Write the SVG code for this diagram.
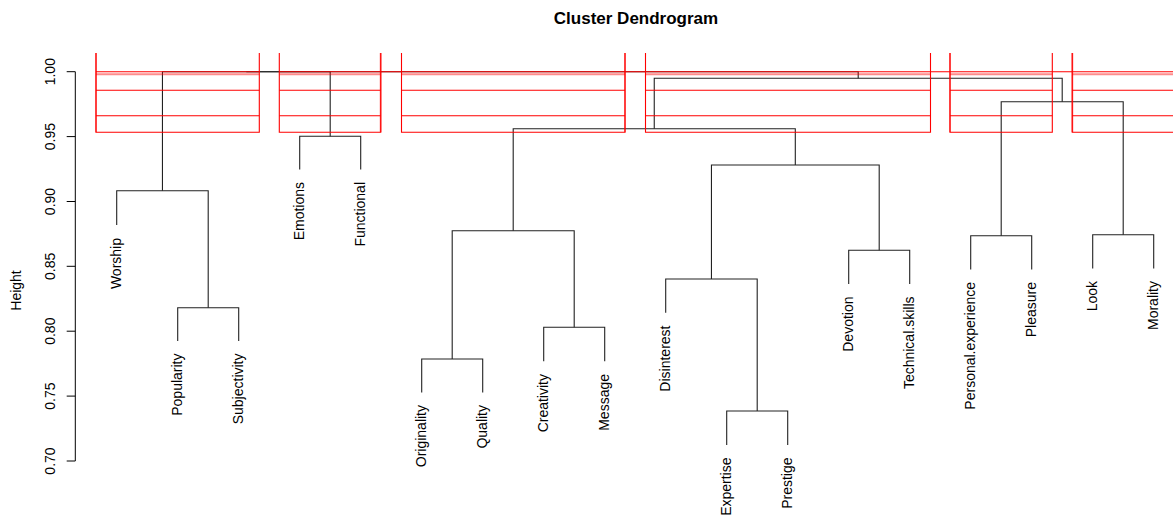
<svg xmlns="http://www.w3.org/2000/svg" width="1173" height="516" viewBox="0 0 1173 516">
<style>
  text { font-family: "Liberation Sans", Arial, sans-serif; fill: #000; }
  .lbl { font-size: 14px; text-anchor: end; }
  .tick { font-size: 14px; text-anchor: middle; }
  .title { font-size: 17px; font-weight: bold; text-anchor: middle; }
  .dl { fill: none; stroke: #222; stroke-width: 1.1; }
  .ax { fill: none; stroke: #000; stroke-width: 1; }
  .rr { fill: none; stroke: #ff0000; stroke-width: 1.1; }
  .rp { fill: none; stroke: #ff0000; stroke-opacity: 0.45; stroke-width: 2; }
</style>
<rect width="1173" height="516" fill="#fff"/>
<text class="title" x="636" y="24">Cluster Dendrogram</text>

<g id="axis">
  <path class="ax" d="M75.3 71.7 V461 M66.7 71.7 H75.3 M66.7 136.6 H75.3 M66.7 201.5 H75.3 M66.7 266.3 H75.3 M66.7 331.2 H75.3 M66.7 396.1 H75.3 M66.7 461 H75.3"/>
  <text class="tick" transform="translate(55 71.7) rotate(-90)">1.00</text>
  <text class="tick" transform="translate(55 136.6) rotate(-90)">0.95</text>
  <text class="tick" transform="translate(55 201.5) rotate(-90)">0.90</text>
  <text class="tick" transform="translate(55 266.3) rotate(-90)">0.85</text>
  <text class="tick" transform="translate(55 331.2) rotate(-90)">0.80</text>
  <text class="tick" transform="translate(55 396.1) rotate(-90)">0.75</text>
  <text class="tick" transform="translate(55 461) rotate(-90)">0.70</text>
  <text class="tick" transform="translate(20.5 290.5) rotate(-90)">Height</text>
</g>

<g id="connectors">
  <path class="dl" d="M177.7 341 V307.7 H238.7 V341"/>
  <path class="dl" d="M116.7 225 V190.7 H208.2 V307.7"/>
  <path class="dl" d="M299.7 169.5 V136.3 H360.7 V169.5"/>
  <path class="dl" d="M162.45 190.7 V71.7 H330.2 V136.3"/>
  <path class="dl" d="M421.7 392.5 V359 H482.7 V392.5"/>
  <path class="dl" d="M543.7 361.3 V327.3 H604.7 V361.3"/>
  <path class="dl" d="M452.2 359 V230.7 H574.2 V327.3"/>
  <path class="dl" d="M726.7 445 V411 H787.7 V445"/>
  <path class="dl" d="M665.7 312.7 V279 H757.2 V411"/>
  <path class="dl" d="M848.7 284 V250.3 H909.7 V284"/>
  <path class="dl" d="M711.45 279 V165 H879.2 V250.3"/>
  <path class="dl" d="M513.2 230.7 V128.7 H795.3 V165"/>
  <path class="dl" d="M970.7 269.5 V235.7 H1031.7 V269.5"/>
  <path class="dl" d="M1092.7 268.5 V234.7 H1153.7 V268.5"/>
  <path class="dl" d="M1001.2 235.7 V101.7 H1123.2 V234.7"/>
  <path class="dl" d="M654.25 128.7 V78.3 H1062.2 V101.7"/>
  <path class="dl" d="M246.3 71.7 H858.2 V78.3"/>
</g>

<g id="rectangles">
  <path class="rp" d="M96 74.3 H259.3 M279.3 74.3 H380.7 M401.5 74.3 H625 M645.5 74.3 H930.5 M950 74.3 H1052.3 M1072.3 74.3 H1173"/>
  <path class="rp" d="M96 53 V132.3 M380.7 53 V132.3 M625 53 V132.3 M950 53 V132.3 M1072.3 53 V132.3"/>
  <path class="rr" d="M96 53 V132.3 H259.3 V53"/>
  <path class="rr" d="M279.3 53 V132.3 H380.7 V53"/>
  <path class="rr" d="M401.5 53 V132.3 H625 V53"/>
  <path class="rr" d="M645.5 53 V132.3 H930.5 V53"/>
  <path class="rr" d="M950 53 V132.3 H1052.3 V53"/>
  <path class="rr" d="M1072.3 53 V132.3 H1180"/>
  <path class="rr" d="M96 71.7 H259.3 M279.3 71.7 H1173"/>
  <path class="rr" d="M96 90.3 H259.3 M279.3 90.3 H380.7 M401.5 90.3 H625 M645.5 90.3 H930.5 M950 90.3 H1052.3 M1072.3 90.3 H1173"/>
  <path class="rr" d="M96 115.7 H259.3 M279.3 115.7 H380.7 M401.5 115.7 H625 M645.5 115.7 H930.5 M950 115.7 H1052.3 M1072.3 115.7 H1173"/>
</g>

<g id="leaf-Worship"><text class="lbl" transform="translate(120.7 238) rotate(-90)">Worship</text></g>
<g id="leaf-Popularity"><text class="lbl" transform="translate(181.7 353.5) rotate(-90)">Popularity</text></g>
<g id="leaf-Subjectivity"><text class="lbl" transform="translate(242.7 353.5) rotate(-90)">Subjectivity</text></g>
<g id="leaf-Emotions"><text class="lbl" transform="translate(303.7 182) rotate(-90)">Emotions</text></g>
<g id="leaf-Functional"><text class="lbl" transform="translate(364.7 182) rotate(-90)">Functional</text></g>
<g id="leaf-Originality"><text class="lbl" transform="translate(425.7 405) rotate(-90)">Originality</text></g>
<g id="leaf-Quality"><text class="lbl" transform="translate(486.7 405) rotate(-90)">Quality</text></g>
<g id="leaf-Creativity"><text class="lbl" transform="translate(547.7 374) rotate(-90)">Creativity</text></g>
<g id="leaf-Message"><text class="lbl" transform="translate(608.7 374) rotate(-90)">Message</text></g>
<g id="leaf-Disinterest"><text class="lbl" transform="translate(669.7 325.5) rotate(-90)">Disinterest</text></g>
<g id="leaf-Expertise"><text class="lbl" transform="translate(730.7 457.5) rotate(-90)">Expertise</text></g>
<g id="leaf-Prestige"><text class="lbl" transform="translate(791.7 457.5) rotate(-90)">Prestige</text></g>
<g id="leaf-Devotion"><text class="lbl" transform="translate(852.7 296.5) rotate(-90)">Devotion</text></g>
<g id="leaf-Technical.skills"><text class="lbl" transform="translate(913.7 296.5) rotate(-90)">Technical.skills</text></g>
<g id="leaf-Personal.experience"><text class="lbl" transform="translate(974.7 282) rotate(-90)">Personal.experience</text></g>
<g id="leaf-Pleasure"><text class="lbl" transform="translate(1035.7 282) rotate(-90)">Pleasure</text></g>
<g id="leaf-Look"><text class="lbl" transform="translate(1096.7 281) rotate(-90)">Look</text></g>
<g id="leaf-Morality"><text class="lbl" transform="translate(1157.7 281) rotate(-90)">Morality</text></g>
</svg>
